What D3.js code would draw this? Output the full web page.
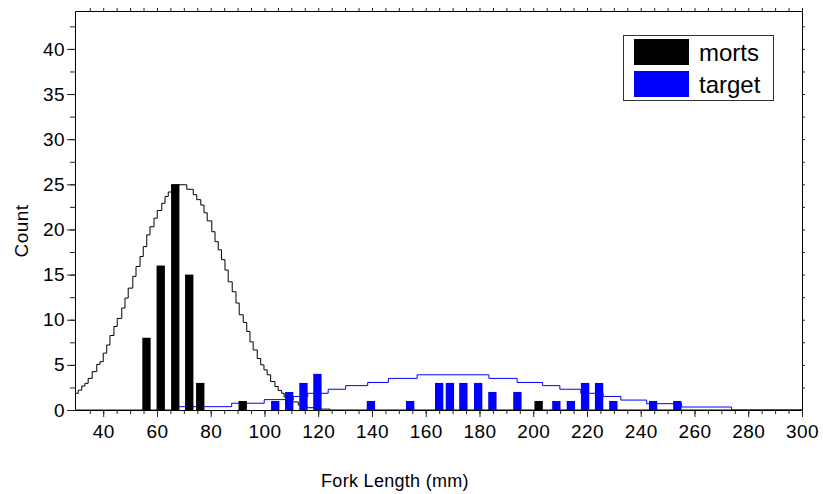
<!DOCTYPE html>
<html>
<head>
<meta charset="utf-8">
<script src="https://cdn.jsdelivr.net/npm/d3@7"></script>
<style>
  body { margin: 0; background: #fff; }
  svg { display: block; font-family: "Liberation Sans", Arial, sans-serif; }
</style>
</head>
<body>
<div class="chart-container"></div>
<script>
// --------------------------------------------------------
// DATA
// --------------------------------------------------------
const mortLength = [56.1, 61.4, 66.8, 72.0, 76.1, 91.9, 202.0];
const mortCount = [8, 16, 25, 15, 3, 1, 1];

const targetLength = [104.0, 109.2, 114.5, 119.7, 139.6, 154.2, 165.0, 169.0, 174.0, 179.5,
  184.8, 194.1, 208.6, 214.0, 219.3, 224.5, 229.8, 244.6, 253.6];
const targetCount = [1, 2, 3, 4, 1, 1, 3, 3, 3, 3, 2, 2, 1, 1, 3, 3, 1, 1, 1];

// fitted curves, drawn as steps
const mortCurveLength = [29.5, 30.7, 32.0, 33.2, 34.4, 35.9, 37.6, 38.8, 40.0, 41.3, 42.5, 44.0,
  45.2, 46.9, 48.1, 49.3, 51.0, 52.2, 53.7, 54.9, 56.2, 57.4, 58.9, 60.1, 61.8, 63.0, 64.2, 65.5,
  71.1, 73.5, 74.8, 76.3, 77.5, 78.7, 80.4, 81.6, 82.8, 84.0, 85.3, 86.5, 88.0, 89.4, 90.6, 92.1,
  93.4, 94.6, 95.8, 97.3, 98.6, 99.8, 101.0, 102.3, 103.9, 105.1, 106.4, 107.3, 108.3,
  112.6, 115.7, 120.6, 124.4, 300];
const mortCurveCount = [1.85, 2.2, 2.65, 2.95, 3.5, 4.25, 5.05, 5.35, 6.3, 7.2, 8.25, 9.25,
  10.15, 11.3, 12.4, 13.5, 14.8, 15.9, 17.0, 18.1, 19.4, 20.3, 21.25, 22.1, 22.9, 23.65, 24.15, 24.95,
  24.45, 23.85, 23.3, 22.7, 21.85, 20.95, 19.75, 18.65, 17.75, 16.65, 15.5, 14.2, 13.1, 11.85, 10.55, 9.7,
  8.7, 7.55, 6.65, 5.7, 5.0, 4.45, 3.9, 3.15, 2.6, 2.15, 1.85, 1.45, 0.9,
  0.55, 0.25, 0.1, 0, 0];

const targetCurveLength = [29.5, 67.9, 87.8, 99.9, 110.7, 116.1, 123.7, 130.2, 138.4, 146.1, 156.8,
  183.5, 194.0, 203.5, 209.9, 217.7, 226.0, 232.6, 242.2, 255.2, 273.8, 300];
const targetCurveCount = [0, 0.37, 0.75, 1.15, 1.5, 1.85, 2.3, 2.7, 3.05, 3.5, 3.9,
  3.5, 3.05, 2.7, 2.3, 1.85, 1.5, 1.1, 0.7, 0.33, 0, 0];

const xTickValues = [40, 60, 80, 100, 120, 140, 160, 180, 200, 220, 240, 260, 280, 300];
const yTickValues = [0, 5, 10, 15, 20, 25, 30, 35, 40];
const seriesNames = ["morts", "target"];
const seriesColors = ["#000000", "#0000ff"];

// --------------------------------------------------------
// VARIABLES
// --------------------------------------------------------
const width = 823;
const height = 494;
const plot = { left: 75, right: 802, top: 11, bottom: 410 };
const binWidth = 3.1; // mm

const svg = d3
  .select(".chart-container")
  .append("svg")
  .attr("width", width)
  .attr("height", height);

const x = d3.scaleLinear().domain([29.5, 300]).range([plot.left, plot.right]);
const y = d3.scaleLinear().domain([0, 44.2]).range([plot.bottom, plot.top]);

svg.append("defs").append("clipPath").attr("id", "plot-clip")
  .append("rect")
  .attr("x", plot.left).attr("y", plot.top)
  .attr("width", plot.right - plot.left).attr("height", plot.bottom - plot.top);

// --------------------------------------------------------
// CURVES
// --------------------------------------------------------
const stepLine = d3.line()
  .x((d) => x(d[0]))
  .y((d) => y(d[1]))
  .curve(d3.curveStepAfter);

const g = svg.append("g").attr("clip-path", "url(#plot-clip)");

g.append("path")
  .attr("fill", "none")
  .attr("stroke", seriesColors[0])
  .attr("stroke-width", 1)
  .attr("d", stepLine(d3.zip(mortCurveLength, mortCurveCount)));

g.append("path")
  .attr("fill", "none")
  .attr("stroke", seriesColors[1])
  .attr("stroke-width", 1)
  .attr("d", stepLine(d3.zip(targetCurveLength, targetCurveCount)));

// --------------------------------------------------------
// BARS
// --------------------------------------------------------
function drawBars(lengths, counts, color) {
  g.append("g")
    .selectAll("rect")
    .data(d3.zip(lengths, counts))
    .join("rect")
    .attr("x", (d) => x(d[0] - binWidth / 2))
    .attr("width", (d) => x(d[0] + binWidth / 2) - x(d[0] - binWidth / 2))
    .attr("y", (d) => y(d[1]))
    .attr("height", (d) => y(0) - y(d[1]))
    .attr("fill", color);
}
drawBars(mortLength, mortCount, seriesColors[0]);
drawBars(targetLength, targetCount, seriesColors[1]);

// --------------------------------------------------------
// AXES
// --------------------------------------------------------
const xMinor = d3.range(35, 301, 5);
const yMinor = d3.range(2.5, 44, 2.5);

function styleAxis(sel) {
  sel.selectAll("path").attr("stroke", "#000");
  sel.selectAll("line").attr("stroke", "#222");
  sel.selectAll("text")
    .attr("fill", "#000")
    .style("font-size", "19px")
    .style("letter-spacing", "0.4px");
}

// bottom
svg.append("g")
  .attr("transform", `translate(0,${plot.bottom})`)
  .call(d3.axisBottom(x).tickValues(xMinor).tickSize(4).tickFormat(""))
  .call((s) => s.select(".domain").remove())
  .call(styleAxis);
svg.append("g")
  .attr("transform", `translate(0,${plot.bottom})`)
  .call(d3.axisBottom(x).tickValues(xTickValues).tickSizeInner(7).tickSizeOuter(0).tickPadding(8))
  .call(styleAxis);

// left
svg.append("g")
  .attr("transform", `translate(${plot.left},0)`)
  .call(d3.axisLeft(y).tickValues(yMinor).tickSize(5).tickFormat(""))
  .call((s) => s.select(".domain").remove())
  .call(styleAxis);
svg.append("g")
  .attr("transform", `translate(${plot.left},0)`)
  .call(d3.axisLeft(y).tickValues(yTickValues).tickSizeInner(8).tickSizeOuter(0).tickPadding(2))
  .call(styleAxis);

// top and right (mirror, no labels)
svg.append("g")
  .attr("transform", `translate(0,${plot.top})`)
  .call(d3.axisTop(x).tickValues(xMinor).tickSizeInner(3).tickSizeOuter(0).tickFormat(""))
  .call(styleAxis);
svg.append("g")
  .attr("transform", `translate(${plot.right},0)`)
  .call(d3.axisRight(y).tickValues(yMinor).tickSizeInner(3).tickSizeOuter(0).tickFormat(""))
  .call(styleAxis);

// axis titles
svg.append("text")
  .attr("x", 395)
  .attr("y", 487)
  .attr("text-anchor", "middle")
  .style("font-size", "18px")
  .style("letter-spacing", "0.3px")
  .text("Fork Length (mm)");

svg.append("text")
  .attr("transform", "translate(28,231) rotate(-90)")
  .attr("text-anchor", "middle")
  .style("font-size", "19px")
  .style("letter-spacing", "0.5px")
  .text("Count");

// --------------------------------------------------------
// LEGEND
// --------------------------------------------------------
const legend = svg.append("g").attr("transform", "translate(623.5,35.5)");
legend.append("rect")
  .attr("width", 150)
  .attr("height", 65)
  .attr("fill", "#fff")
  .attr("stroke", "#333");

const items = legend.selectAll("g.item")
  .data(seriesNames)
  .join("g")
  .attr("class", "item")
  .attr("transform", (d, i) => `translate(10.5,${3.5 + i * 32})`);

items.append("rect")
  .attr("width", 55)
  .attr("height", 26)
  .attr("fill", (d, i) => seriesColors[i]);

items.append("text")
  .attr("x", 65)
  .attr("y", 22)
  .style("font-size", "24px")
  .text((d) => d);
</script>
</body>
</html>
